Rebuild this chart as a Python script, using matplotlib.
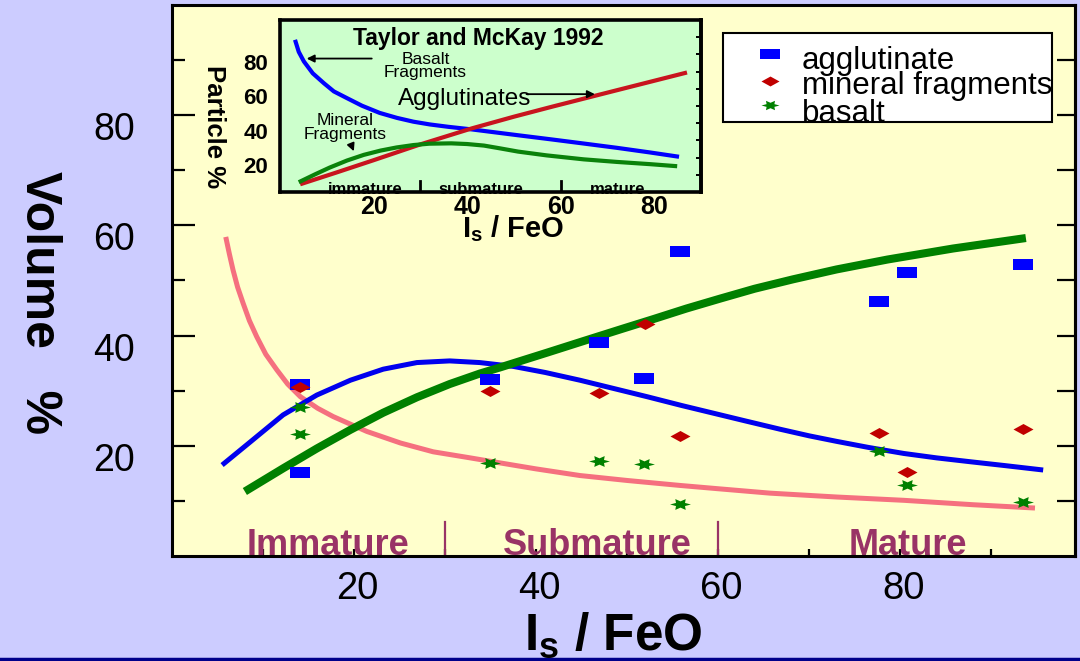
import math

import matplotlib
matplotlib.use("Agg")
import matplotlib.pyplot as plt
from matplotlib.lines import Line2D
from matplotlib.patches import Rectangle
from matplotlib.transforms import ScaledTranslation

plt.rcParams["font.family"] = ["Liberation Sans", "DejaVu Sans"]
plt.rcParams["mathtext.fontset"] = "custom"
plt.rcParams["mathtext.rm"] = "Liberation Sans"
plt.rcParams["mathtext.bf"] = "Liberation Sans:bold"

# amostras do grafico principal (Is/FeO, volume %)
aglut_x = [14.1, 14.1, 34.9, 46.9, 51.9, 55.8, 77.7, 80.7, 93.5]
aglut_y = [31.2, 15.2, 32.1, 38.8, 32.3, 55.4, 46.3, 51.5, 53.0]
mineral_x = [14.1, 34.9, 46.9, 52.0, 55.8, 77.7, 80.7, 93.5]
mineral_y = [30.7, 29.9, 29.6, 42.1, 21.8, 22.3, 15.2, 23.0]
basalto_x = [14.1, 14.1, 34.9, 46.9, 51.9, 55.8, 77.7, 80.7, 93.5]
basalto_y = [27.0, 22.1, 16.9, 17.2, 16.7, 9.4, 19.1, 12.9, 9.8]

# curvas do grafico principal
rosa_x = [5.9, 6.3, 6.7, 7.2, 7.8, 8.5, 9.3, 10.3, 11.5, 12.7, 14.1, 16.0, 17.7,
          21.4, 25.1, 28.7, 32.4, 36.0, 40.0, 44.8, 50.0, 55.8, 60.0, 65.7, 73.0,
          80.4, 88.0, 94.8]
rosa_y = [57.9, 54.8, 51.9, 48.8, 45.9, 42.7, 39.8, 36.6, 33.8, 31.2, 28.9, 26.8, 25.3,
          22.6, 20.5, 18.9, 17.9, 16.9, 15.8, 14.6, 13.7, 12.8, 12.2, 11.4, 10.7,
          10.1, 9.3, 8.7]
azul_x = [5.5, 8.6, 12.2, 15.9, 19.6, 23.2, 26.9, 30.5, 33.8, 37.5, 41.0, 44.8,
          48.5, 52.2, 56.0, 59.5, 63.0, 66.8, 70.0, 73.0, 76.5, 80.4, 84.0, 87.7,
          91.5, 95.7]
azul_y = [16.5, 20.7, 25.6, 29.2, 31.9, 33.9, 35.1, 35.4, 35.1, 34.4, 33.3, 31.9,
          30.4, 28.9, 27.3, 25.9, 24.5, 23.0, 21.8, 20.8, 19.7, 18.6, 17.8, 17.1,
          16.4, 15.6]
verde_x = [8.0, 12.2, 15.9, 19.6, 23.2, 26.9, 30.5, 33.8, 36.0, 41.2, 45.0, 49.6,
           52.9, 56.5, 60.2, 64.0, 68.2, 73.0, 78.6, 85.8, 93.8]
verde_y = [11.7, 15.9, 19.5, 22.9, 26.0, 28.8, 31.2, 33.1, 34.2, 36.9, 38.9, 41.3,
           43.0, 44.9, 46.7, 48.5, 50.2, 52.0, 53.8, 55.8, 57.7]

# curvas do detalhe (Taylor and McKay 1992)
frag_basalto_x = [3.2, 4.0, 5.1, 7.0, 9.4, 11.5, 14.3, 17.5, 21.3, 25.0, 28.5, 32.0,
                  36.0, 41.0, 50.9, 58.0, 64.9, 72.0, 79.1, 85.3]
frag_basalto_y = [88.5, 81.5, 75.9, 69.0, 63.2, 58.5, 54.6, 50.2, 46.0, 43.1, 40.9, 39.3,
                  37.9, 36.4, 33.0, 30.6, 28.2, 25.7, 23.0, 20.5]
aglutinados_x = [4.3, 12.0, 20.0, 30.0, 41.0, 50.0, 58.0, 70.0, 87.0]
aglutinados_y = [4.5, 11.3, 18.5, 27.7, 37.0, 43.8, 49.5, 57.8, 69.5]
frag_mineral_x = [4.0, 7.5, 10.6, 14.3, 17.9, 21.5, 24.9, 28.5, 31.9, 36.6, 40.0,
                  43.6, 47.0, 50.9, 57.0, 64.9, 72.0, 79.1, 84.9]
frag_mineral_y = [5.7, 10.3, 14.2, 18.3, 21.6, 24.1, 25.9, 27.3, 28.1, 28.3, 27.9,
                  27.0, 25.4, 23.5, 21.3, 19.0, 17.5, 16.2, 15.0]

fases = ["Immature", "Submature", "Mature"]
fases_x = [17.1, 46.7, 80.8]
fases_detalhe = ["immature", "submature", "mature"]
fases_detalhe_x = [18.3, 43.0, 72.1]
limites_fase = [30, 60]

legenda_nomes = ["agglutinate", "mineral fragments", "basalt"]

# formatos dos marcadores
RETANGULO = [(-1, -0.55), (1, -0.55), (1, 0.55), (-1, 0.55), (-1, -0.55)]
LOSANGO = [(-1, 0), (0, 0.55), (1, 0), (0, -0.55), (-1, 0)]
ESTRELA = []
for k in range(13):
    r = 1.0 if k % 2 == 0 else 0.5
    ang = math.radians(30 * k)
    ESTRELA.append((r * math.cos(ang), 0.6 * r * math.sin(ang)))

AZUL = "#0000ff"
VERMELHO = "#c00000"
VERDE = "#008000"
VINHO = "#993366"


def desloca(rotulos, dx_px, dy_px, fig):
    for lab in rotulos:
        lab.set_transform(lab.get_transform()
                          + ScaledTranslation(dx_px / 100, dy_px / 100, fig.dpi_scale_trans))


fig = plt.figure(figsize=(10.8, 6.61), dpi=100, facecolor="#ccccff")

# ---------------- grafico principal ----------------
ax = fig.add_axes([0.1593, 0.1589, 0.8361, 0.8336], facecolor="#ffffcc")
ax.set_xlim(0, 99.2)
ax.set_ylim(0, 100)

estilo = dict(solid_capstyle="butt", solid_joinstyle="round")
ax.plot(rosa_x, rosa_y, color="#f5707f", lw=3.6, **estilo)
ax.plot(azul_x, azul_y, color="#0000ee", lw=3.6, **estilo)
ax.plot(verde_x, verde_y, color=VERDE, lw=5.8, **estilo)

ax.plot(aglut_x, aglut_y, ls="none", marker=RETANGULO, ms=14.4, color=AZUL, mew=0)
ax.plot(mineral_x, mineral_y, ls="none", marker=LOSANGO, ms=14.4, color=VERMELHO, mew=0)
ax.plot(basalto_x, basalto_y, ls="none", marker=ESTRELA, ms=15, color=VERDE, mew=0)

for nome, xpos in zip(fases, fases_x):
    ax.text(xpos, 0.2, nome, ha="center", va="baseline", fontsize=26,
            fontweight="bold", color=VINHO, zorder=2)
for xpos in limites_fase:
    ax.plot([xpos, xpos], [0.2, 6.2], color=VINHO, lw=1.6)

ax.set_xticks([20, 40, 60, 80])
ax.set_xticks(range(10, 100, 20), minor=True)
ax.set_yticks([20, 40, 60, 80])
ax.set_yticks(range(10, 100, 20), minor=True)
ax.tick_params(axis="y", which="major", direction="in", length=16.5, width=1.6,
               pad=26.5, labelsize=27)
ax.tick_params(axis="y", which="minor", direction="in", length=9.4, width=1.6)
ax.tick_params(axis="x", which="both", direction="in", length=5, width=1.6,
               pad=10.5, labelsize=27.5)
desloca(ax.get_yticklabels(), 0, -11, fig)
desloca(ax.get_xticklabels(), 3, 0, fig)
for sp in ax.spines.values():
    sp.set_linewidth(2.2)

direita = ax.secondary_yaxis("right")
direita.set_yticks(range(10, 100, 10))
direita.tick_params(direction="in", length=13, width=1.6, labelright=False)
direita.spines["right"].set_linewidth(2.2)

# legenda desenhada a mao (texto sai da caixa como no original)
ax.add_patch(Rectangle((0.6102, 0.7877), 0.3643, 0.1615, transform=ax.transAxes,
                       facecolor="white", edgecolor="black", lw=1.5, zorder=4))
leg_marcadores = [(RETANGULO, AZUL, 13.7), (LOSANGO, VERMELHO, 13.0), (ESTRELA, VERDE, 13.0)]
leg_y_marc = [0.9111, 0.8621, 0.8185]
leg_y_txt = [0.8838, 0.8385, 0.7877]
for nome, (mk, cor, ms), ym, yt in zip(legenda_nomes, leg_marcadores, leg_y_marc, leg_y_txt):
    ax.plot([0.6617], [ym], ls="none", marker=mk, ms=ms, color=cor, mew=0,
            transform=ax.transAxes, zorder=5, clip_on=False)
    ax.text(0.6977, yt, nome, transform=ax.transAxes, fontsize=22.5,
            va="baseline", ha="left", zorder=5)

fig.text(39 / 1080, 1 - 303 / 661, "Volume   %", rotation=-90, ha="center",
         va="center", fontsize=36, fontweight="bold")
fig.text(613 / 1080, 1 - 650 / 661, r"$\mathbf{I_s}$ / FeO", ha="center",
         va="baseline", fontsize=37, fontweight="bold")

# ---------------- detalhe Taylor and McKay 1992 ----------------
ins = fig.add_axes([0.2593, 0.7095, 0.3898, 0.2602], facecolor="#ccffcc")
ins.set_xlim(0, 90)
ins.set_ylim(0, 100)
ins.plot(frag_basalto_x, frag_basalto_y, color="#0000ff", lw=3, **estilo)
ins.plot(aglutinados_x, aglutinados_y, color="#c8141e", lw=3, **estilo)
ins.plot(frag_mineral_x, frag_mineral_y, color="#0a820a", lw=3, **estilo)

seta = dict(arrowstyle="-|>", color="black", lw=1.3, mutation_scale=11)
ins.annotate("", xy=(5.1, 77.6), xytext=(20.2, 77.6), arrowprops=seta)
ins.annotate("", xy=(67.9, 56.9), xytext=(52.1, 56.9), arrowprops=seta)
ins.annotate("", xy=(16.0, 22.2), xytext=(15.0, 28.9), arrowprops=seta)

ins.text(42.3, 89, "Taylor and McKay 1992", ha="center", va="center",
         fontsize=16.5, fontweight="bold")
ins.text(31.1, 73.5, "Basalt\nFragments", ha="center", va="center",
         fontsize=12.5, linespacing=0.85)
ins.text(39.4, 54, "Agglutinates", ha="center", va="center", fontsize=17.5)
ins.text(14.0, 37.5, "Mineral\nFragments", ha="center", va="center",
         fontsize=12.5, linespacing=0.85)

for nome, xpos in zip(fases_detalhe, fases_detalhe_x):
    ins.text(xpos, -1, nome, ha="center", va="baseline", fontsize=12,
             fontweight="bold", zorder=2, clip_on=False)
for xpos in limites_fase:
    ins.plot([xpos, xpos], [0, 6.5], color="black", lw=2)

ins.set_xticks([20, 40, 60, 80])
ins.set_yticks([20, 40, 60, 80])
ins.tick_params(axis="x", length=0, pad=2.3, labelsize=18)
ins.tick_params(axis="y", length=0, pad=8.6, labelsize=16)
for lab in ins.get_xticklabels() + ins.get_yticklabels():
    lab.set_fontweight("bold")
desloca(ins.get_yticklabels(), 0, -7.5, fig)
for sp in ins.spines.values():
    sp.set_linewidth(2.6)

ins_dir = ins.secondary_yaxis("right")
ins_dir.set_yticks(range(10, 100, 10))
ins_dir.tick_params(direction="in", length=3.5, width=1.4, labelright=False)
ins_dir.spines["right"].set_linewidth(2.6)

fig.text(214 / 1080, 1 - 127 / 661, "Particle %", rotation=-90, ha="center",
         va="center", fontsize=18.5, fontweight="bold")
fig.text(513 / 1080, 1 - 237 / 661, r"$\mathbf{I_s}$ / FeO", ha="center",
         va="baseline", fontsize=21, fontweight="bold")

# faixa azul escura no rodape
fig.add_artist(Line2D([0, 1], [0.0023, 0.0023], transform=fig.transFigure,
                      color="#00008b", lw=2.5))

fig.savefig("out.png", dpi=100, facecolor=fig.get_facecolor())
